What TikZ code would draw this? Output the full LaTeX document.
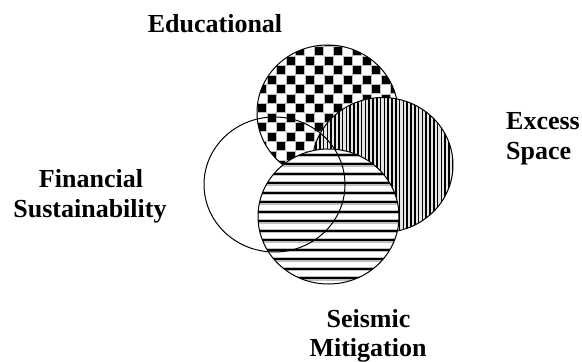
\documentclass[tikz,border=0pt]{standalone}
\usepackage{fontspec}
\setmainfont{Liberation Serif}
\usetikzlibrary{shapes.geometric}
\begin{document}
\begin{tikzpicture}[x=1pt,y=-1pt,
  set/.style={ellipse, draw=black, line width=1pt, inner sep=0pt,
    minimum width=141pt, minimum height=135pt},
  area/.style={x radius=70.5, y radius=67.5},
  lab/.style={font=\fontsize{26}{30}\selectfont\bfseries, inner sep=0pt, anchor=base},
  labw/.style={lab, anchor=base west},
  checker/.style={fill=black, draw=gray!50, line width=0.7pt},
  vline/.style={black, line width=1.7pt},
  hhalo/.style={gray!50, line width=4.5pt},
  hline/.style={black, line width=2pt}]
\useasboundingbox (0,0) rectangle (582,362);
\fill[white] (0,0) rectangle (582,362);

% Educational: checkerboard
\begin{scope}
  \clip (327.5,112.5) ellipse [area];
  \fill[white] (250,40) rectangle (405,185);
  \foreach \i in {-6,...,10} \foreach \j in {-2,...,14} {
    \pgfmathtruncatemacro\cpar{mod(\i+\j+40,2)}
    \ifnum\cpar=0
      \filldraw[checker] ({305+\i*9.5+0.3},{56+\j*9.5+0.3}) rectangle ++(8.9,8.9);
    \fi
  }
\end{scope}
\node[set] (edu) at (327.5,112.5) {};

% Excess space: vertical lines
\begin{scope}
  \clip (382.5,165) ellipse [area];
  \fill[gray!20] (305,95) rectangle (460,235);
  \foreach \k in {0,...,39}
    \draw[vline] ({308.4+\k*3.8},95) -- ++(0,140);
\end{scope}
\node[set] (exc) at (382.5,165) {};

% Seismic mitigation: horizontal lines
\begin{scope}
  \clip (328.5,216.5) ellipse [area];
  \fill[white] (255,145) rectangle (402,290);
  \foreach \k in {0,...,15} {
    \draw[hhalo] (255,{145.3+\k*9.5}) -- (402,{145.3+\k*9.5});
    \draw[hline] (255,{145.3+\k*9.5}) -- (402,{145.3+\k*9.5});
  }
\end{scope}
\node[set] (seis) at (328.5,216.5) {};

% Financial sustainability: outline only
\node[set] (fin) at (274.5,184.5) {};

% Labels
\node[lab] (eduA) at (215,32) {Educational};
\node[labw] (excA) at (506,129.3) {Excess};
\node[labw] (excB) at (506,159.3) {Space};
\node[lab] (finA) at (91,187.8) {Financial};
\node[lab] (finB) at (90,217.5) {Sustainability};
\node[lab] (seiA) at (368.5,327) {Seismic};
\node[lab] (seiB) at (368,356) {Mitigation};
\end{tikzpicture}
\end{document}
